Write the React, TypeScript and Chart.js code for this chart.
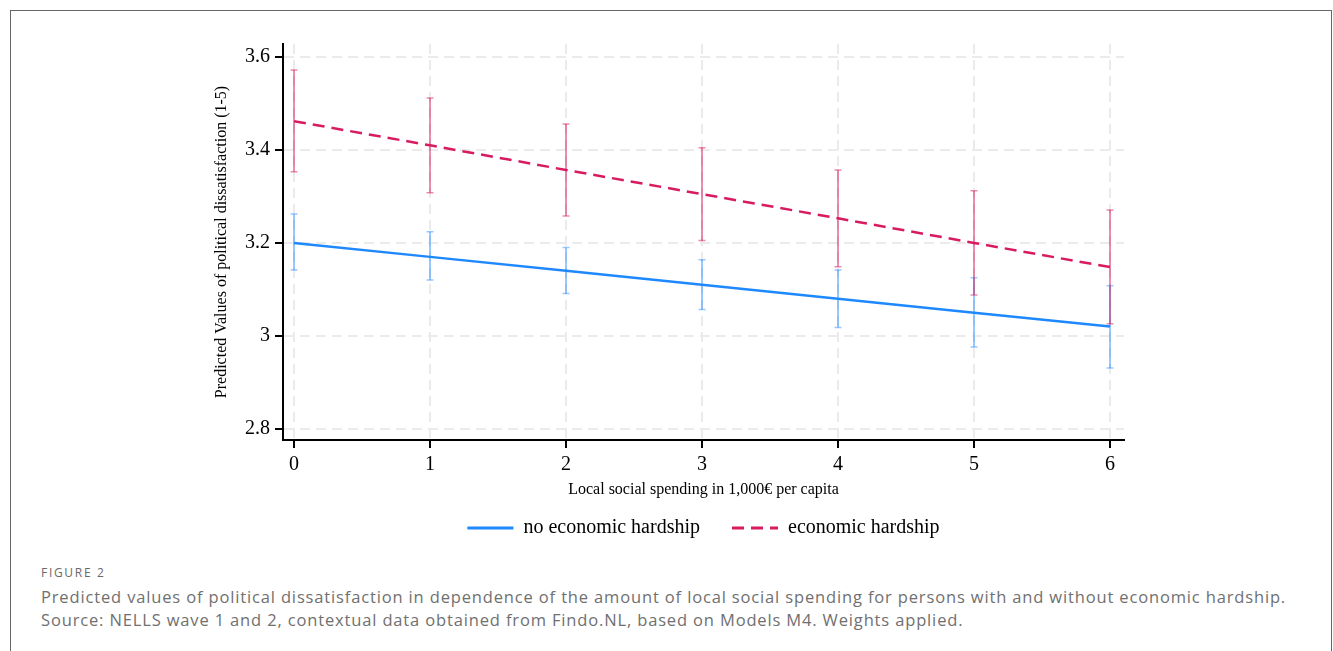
import React, { useEffect, useRef } from "react";
import { Chart, registerables } from "chart.js";

Chart.register(...registerables);

// ---- data ----
const xValues = [0, 1, 2, 3, 4, 5, 6];
const noHardship = [3.2, 3.17, 3.14, 3.11, 3.08, 3.05, 3.02];
const noHardshipLow = [3.142, 3.12, 3.091, 3.057, 3.018, 2.976, 2.931];
const noHardshipHigh = [3.262, 3.224, 3.19, 3.164, 3.142, 3.125, 3.108];
const hardship = [3.462, 3.41, 3.357, 3.305, 3.253, 3.2, 3.148];
const hardshipLow = [3.353, 3.308, 3.258, 3.205, 3.149, 3.088, 3.026];
const hardshipHigh = [3.572, 3.512, 3.456, 3.405, 3.357, 3.312, 3.271];
const xTicks = [0, 1, 2, 3, 4, 5, 6];
const yTicks = [2.8, 3.0, 3.2, 3.4, 3.6];
const yTickLabels = ["2.8", "3", "3.2", "3.4", "3.6"];
const seriesNames = ["no economic hardship", "economic hardship"];

const SERIF = '"Liberation Serif", "Times New Roman", serif';
const BLUE = "#1e88fe";
const RED = "#d81b60";
const BLUE_BAR = "rgba(30,136,254,0.45)";
const RED_BAR = "rgba(216,27,96,0.5)";

const errorBarPlugin = {
  id: "errorBars",
  beforeDatasetsDraw(chart: any) {
    const { ctx, scales } = chart;
    const xs = scales.x;
    const ys = scales.y;
    const groups = [
      { low: noHardshipLow, high: noHardshipHigh, color: BLUE_BAR },
      { low: hardshipLow, high: hardshipHigh, color: RED_BAR },
    ];
    ctx.save();
    groups.forEach((g) => {
      ctx.strokeStyle = g.color;
      xValues.forEach((xv, i) => {
        const px = xs.getPixelForValue(xv);
        const y1 = ys.getPixelForValue(g.low[i]);
        const y2 = ys.getPixelForValue(g.high[i]);
        ctx.lineWidth = 2;
        ctx.beginPath();
        ctx.moveTo(px, y1);
        ctx.lineTo(px, y2);
        ctx.stroke();
        ctx.lineWidth = 1.5;
        ctx.beginPath();
        ctx.moveTo(px - 3.5, y1);
        ctx.lineTo(px + 3.5, y1);
        ctx.moveTo(px - 3.5, y2);
        ctx.lineTo(px + 3.5, y2);
        ctx.stroke();
      });
    });
    ctx.restore();
  },
};

export default function App() {
  const ref = useRef<HTMLCanvasElement | null>(null);

  useEffect(() => {
    if (!ref.current) return;
    const chart = new Chart(ref.current, {
      type: "line",
      data: {
        datasets: [
          {
            label: seriesNames[0],
            data: xValues.map((x, i) => ({ x, y: noHardship[i] })),
            borderColor: BLUE,
            backgroundColor: BLUE,
            borderWidth: 2.5,
            pointRadius: 0,
            fill: false,
          },
          {
            label: seriesNames[1],
            data: xValues.map((x, i) => ({ x, y: hardship[i] })),
            borderColor: RED,
            backgroundColor: RED,
            borderWidth: 2.5,
            borderDash: [12, 7],
            pointRadius: 0,
            fill: false,
          },
        ],
      },
      options: {
        animation: false,
        responsive: false,
        devicePixelRatio: 1,
        layout: { padding: { left: 0, right: 208, top: 34, bottom: 10 } },
        plugins: {
          tooltip: { enabled: false },
          legend: {
            position: "bottom",
            fullSize: false,
            labels: {
              usePointStyle: true,
              pointStyle: "line",
              pointStyleWidth: 46,
              padding: 32,
              color: "#000",
              font: { family: SERIF, size: 20 },
              generateLabels: (ch: any) => {
                const items = Chart.defaults.plugins.legend.labels.generateLabels(ch);
                return items.map((it: any) => {
                  const ds = ch.data.datasets[it.datasetIndex];
                  return {
                    ...it,
                    lineDash: ds.borderDash || [],
                    lineWidth: 3,
                    strokeStyle: ds.borderColor,
                    fillStyle: ds.borderColor,
                  };
                });
              },
            },
          },
        },
        scales: {
          x: {
            type: "linear",
            min: -0.081,
            max: 6.103,
            afterBuildTicks: (s: any) => {
              s.ticks = xTicks.map((v) => ({ value: v }));
            },
            afterFit: (s: any) => {
              s.height = 46;
            },
            grid: {
              color: "#ebebeb",
              lineWidth: 2,
              tickColor: "#000",
              tickWidth: 2,
              tickLength: 8,
              tickBorderDash: [],
            },
            border: { display: true, color: "#000", width: 2, dash: [10, 6] },
            ticks: {
              color: "#000",
              padding: 5,
              font: { family: SERIF, size: 20 },
              callback: (v: any) => String(v),
            },
            title: {
              display: true,
              text: "Local social spending in 1,000€ per capita",
              color: "#000",
              font: { family: SERIF, size: 16 },
              padding: { top: 0, bottom: -13.6 },
            },
          },
          y: {
            type: "linear",
            min: 2.776,
            max: 3.628,
            afterBuildTicks: (s: any) => {
              s.ticks = yTicks.map((v) => ({ value: v }));
            },
            afterFit: (s: any) => {
              s.width = 273;
            },
            grid: {
              color: "#ebebeb",
              lineWidth: 2,
              tickColor: "#000",
              tickWidth: 2,
              tickLength: 8,
              tickBorderDash: [],
            },
            border: { display: true, color: "#000", width: 2, dash: [10, 6] },
            ticks: {
              color: "#000",
              padding: 5,
              font: { family: SERIF, size: 20 },
              callback: (v: any) => {
                const idx = yTicks.findIndex((t) => Math.abs(t - v) < 1e-6);
                return idx >= 0 ? yTickLabels[idx] : "";
              },
            },
            title: {
              display: true,
              text: "Predicted Values of political dissatisfaction (1-5)",
              color: "#000",
              font: { family: SERIF, size: 16 },
              padding: { top: 202.4, bottom: 0 },
            },
          },
        },
      },
      plugins: [errorBarPlugin],
    } as any);
    return () => chart.destroy();
  }, []);

  const captionFont = '"Open Sans", "Noto Sans", sans-serif';

  return (
    <div>
      <div
        style={{
          position: "absolute",
          left: 10,
          top: 10,
          width: 1322,
          height: 641,
          boxSizing: "border-box",
          border: "1px solid #666",
          borderBottom: "none",
        }}
      />
      <canvas
        ref={ref}
        width={1322}
        height={548}
        style={{ position: "absolute", left: 10, top: 10, width: 1322, height: 548 }}
      />
      <div
        style={{
          position: "absolute",
          left: 41,
          top: 565,
          fontFamily: captionFont,
          fontSize: 12,
          letterSpacing: 1.7,
          color: "#6a6a6a",
          lineHeight: "16px",
        }}
      >
        FIGURE 2
      </div>
      <div
        style={{
          position: "absolute",
          left: 41,
          top: 585,
          width: 1285,
          fontFamily: captionFont,
          fontSize: 16.5,
          letterSpacing: 0.85,
          color: "#707070",
          lineHeight: "23px",
          whiteSpace: "nowrap",
        }}
      >
        <div>
          Predicted values of political dissatisfaction in dependence of the amount of local social spending for persons with and without economic hardship.
        </div>
        <div>
          Source: NELLS wave 1 and 2, contextual data obtained from Findo.NL, based on Models M4. Weights applied.
        </div>
      </div>
    </div>
  );
}
